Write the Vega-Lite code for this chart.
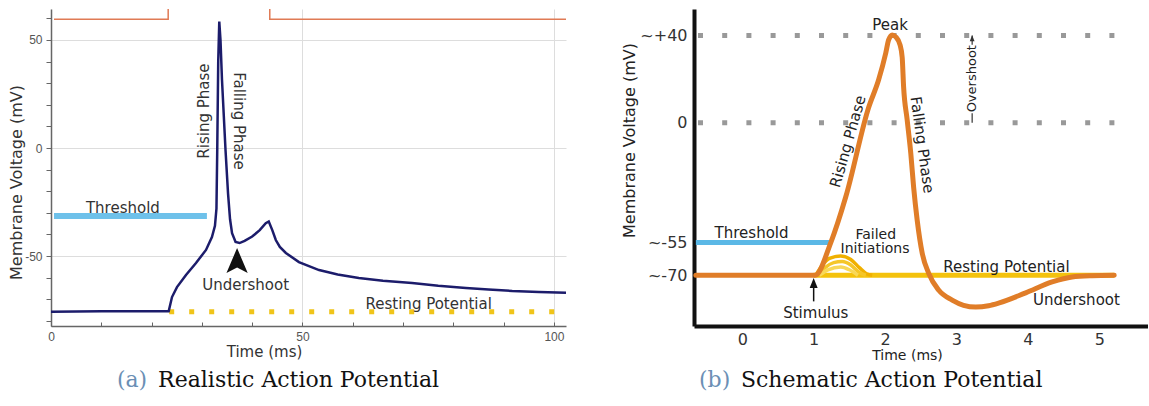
{
  "$schema": "https://vega.github.io/schema/vega-lite/v6.json",
  "background": "white",
  "padding": {"left": 8, "top": 9, "right": 0, "bottom": 0},
  "bounds": "flush",
  "spacing": 128,
  "config": {"view": {"stroke": null}, "font": "DejaVu Sans", "axis": {"titleFontWeight": "normal"}},
  "resolve": {"scale": {"x": "independent", "y": "independent", "color": "independent"}},
  "datasets": {
    "stimA": [{"t": 0.6, "v": 59.6}, {"t": 23.3, "v": 59.6}, {"t": 23.3, "v": 75}, {"t": 43.5, "v": 75}, {"t": 43.5, "v": 59.6}, {"t": 102.4, "v": 59.6}],
    "threshA": [{"t": 0.6, "t2": 31, "v": -31.5}],
    "restA": [{"t": 23.5, "t2": 100.5, "v": -75.8}],
    "traceA": [
      {"t": 0, "v": -75.8}, {"t": 10, "v": -75.6}, {"t": 23.4, "v": -75.6}, {"t": 24.06, "v": -69}, {"t": 25.05, "v": -64.4},
      {"t": 26.84, "v": -58.8}, {"t": 28.83, "v": -53.2}, {"t": 30.82, "v": -47.2}, {"t": 32.0, "v": -41.2}, {"t": 32.6, "v": -36},
      {"t": 32.9, "v": -28}, {"t": 33.06, "v": 0}, {"t": 33.25, "v": 40}, {"t": 33.46, "v": 58.5}, {"t": 33.7, "v": 50},
      {"t": 34.0, "v": 31.5}, {"t": 34.7, "v": -0.9}, {"t": 35.2, "v": -21}, {"t": 35.6, "v": -33}, {"t": 36.0, "v": -39.4},
      {"t": 36.7, "v": -43.5}, {"t": 37.5, "v": -44}, {"t": 38.5, "v": -43}, {"t": 40.0, "v": -41}, {"t": 41.5, "v": -38},
      {"t": 42.7, "v": -34.8}, {"t": 43.3, "v": -34.0}, {"t": 44.0, "v": -38}, {"t": 44.7, "v": -42.6}, {"t": 45.5, "v": -45.8},
      {"t": 46.7, "v": -48.6}, {"t": 49.3, "v": -52.8}, {"t": 53.3, "v": -56.5}, {"t": 57, "v": -58.6}, {"t": 61.2, "v": -60.2},
      {"t": 66, "v": -61.5}, {"t": 71.8, "v": -62.5}, {"t": 77, "v": -63.8}, {"t": 82.5, "v": -64.8}, {"t": 87, "v": -65.5},
      {"t": 91.7, "v": -66.2}, {"t": 97, "v": -66.7}, {"t": 102.4, "v": -67}
    ],
    "arrowA": [{"t": 37.0, "v": -52.1}],
    "textAh": [{"t": 14.3, "v": -30.1, "label": "Threshold"}, {"t": 38.7, "v": -65.7, "label": "Undershoot"}, {"t": 75.1, "v": -74.5, "label": "Resting Potential"}],
    "textAup": [{"t": 30.4, "v": 17.1, "label": "Rising Phase"}],
    "textAdown": [{"t": 37.4, "v": 12.5, "label": "Falling Phase"}],
    "capAl": [{"t": 13.1, "v": -110.6, "label": "(a)"}],
    "capAr": [{"t": 21.3, "v": -110.6, "label": "Realistic Action Potential"}],
    "gridB": [{"t": -0.62, "t2": 5.22, "v": 40}, {"t": -0.62, "t2": 5.22, "v": 0}],
    "threshB": [{"t": -0.65, "t2": 1.24, "v": -55}],
    "restB": [{"t": 1.0, "t2": 5.21, "v": -70}],
    "humpsB": [
      {"s": "h1", "t": 1.03, "v": -70}, {"s": "h1", "t": 1.12, "v": -65.5}, {"s": "h1", "t": 1.22, "v": -62.3}, {"s": "h1", "t": 1.38, "v": -61.2}, {"s": "h1", "t": 1.52, "v": -62.8}, {"s": "h1", "t": 1.64, "v": -66.5}, {"s": "h1", "t": 1.74, "v": -69.3}, {"s": "h1", "t": 1.82, "v": -70},
      {"s": "h2", "t": 1.06, "v": -70}, {"s": "h2", "t": 1.16, "v": -66.5}, {"s": "h2", "t": 1.28, "v": -64.2}, {"s": "h2", "t": 1.40, "v": -63.7}, {"s": "h2", "t": 1.52, "v": -65.3}, {"s": "h2", "t": 1.63, "v": -68.5}, {"s": "h2", "t": 1.73, "v": -70},
      {"s": "h3", "t": 1.08, "v": -70}, {"s": "h3", "t": 1.2, "v": -67.5}, {"s": "h3", "t": 1.38, "v": -66.2}, {"s": "h3", "t": 1.5, "v": -67.5}, {"s": "h3", "t": 1.62, "v": -70}
    ],
    "curveB": [
      {"t": -0.65, "v": -70}, {"t": 1.02, "v": -70}, {"t": 1.24, "v": -55}, {"t": 1.45, "v": -34}, {"t": 1.77, "v": 7},
      {"t": 1.91, "v": 19.7}, {"t": 2.01, "v": 32}, {"t": 2.05, "v": 38}, {"t": 2.10, "v": 40.3}, {"t": 2.15, "v": 39.4},
      {"t": 2.21, "v": 35.7}, {"t": 2.24, "v": 30}, {"t": 2.26, "v": 16.4}, {"t": 2.31, "v": 1.25}, {"t": 2.36, "v": -13.9},
      {"t": 2.40, "v": -29.5}, {"t": 2.45, "v": -44.7}, {"t": 2.52, "v": -59.8}, {"t": 2.61, "v": -69}, {"t": 2.75, "v": -76.8},
      {"t": 2.94, "v": -81.4}, {"t": 3.1, "v": -83.8}, {"t": 3.27, "v": -84.6}, {"t": 3.45, "v": -84}, {"t": 3.60, "v": -82.7},
      {"t": 3.97, "v": -78.1}, {"t": 4.34, "v": -73.1}, {"t": 4.62, "v": -70.8}, {"t": 4.90, "v": -70.2}, {"t": 5.21, "v": -70}
    ],
    "arrowBhead": [{"t": 1.0, "v": -73.6}],
    "arrowBshaft": [{"t": 1.0, "v": -75, "v2": -82}],
    "overBars": [{"t": 3.22, "v": 0, "v2": 4.3}, {"t": 3.22, "v": 35.8, "v2": 40}],
    "overHead": [{"t": 3.22, "v": 38.8}],
    "textBh": [
      {"t": 2.07, "v": 42.6, "label": "Peak"}, {"t": 0.13, "v": -52.8, "label": "Threshold"},
      {"t": 3.70, "v": -68.4, "label": "Resting Potential"},
      {"t": 4.68, "v": -83.7, "label": "Undershoot"}, {"t": 1.03, "v": -89.8, "label": "Stimulus"}
    ],
    "textBsmall": [{"t": 1.87, "v": -53.4, "label": "Failed"}, {"t": 1.86, "v": -59.9, "label": "Initiations"}],
    "textBrise": [{"t": 1.48, "v": -8.6, "label": "Rising Phase"}],
    "textBfall": [{"t": 2.52, "v": -10.2, "label": "Falling Phase"}],
    "textBover": [{"t": 3.22, "v": 20.2, "label": "Overshoot"}],
    "capBl": [{"t": -0.606, "v": -121.3, "label": "(b)"}],
    "capBr": [{"t": -0.018, "v": -121.3, "label": "Schematic Action Potential"}]
  },
  "hconcat": [
    {
      "width": 515,
      "height": 317,
      "encoding": {
        "x": {
          "field": "t", "type": "quantitative",
          "scale": {"domain": [0, 102.4], "nice": false, "zero": false},
          "axis": {
            "title": "Time (ms)", "titleX": 213, "titleFontSize": 15, "titleColor": "#333", "titlePadding": 2,
            "values": [0, 10, 20, 30, 40, 50, 60, 70, 80, 90, 100],
            "labelExpr": "datum.value % 50 === 0 ? datum.label : ''",
            "labelFlush": false, "labelFont": "Liberation Sans", "labelFontSize": 12, "labelColor": "#555", "labelPadding": 9,
            "tickSize": -4, "tickColor": "#666", "domainColor": "#666", "domainWidth": 1.5,
            "grid": true, "gridColor": "#ddd",
            "gridOpacity": {"condition": {"test": "datum.value % 50 === 0", "value": 1}, "value": 0}
          }
        },
        "y": {
          "field": "v", "type": "quantitative",
          "scale": {"domain": [-82.4, 64.35], "nice": false, "zero": false},
          "axis": {
            "title": "Membrane Voltage (mV)", "titleY": 173, "titleFontSize": 16, "titleColor": "#333", "titlePadding": 0,
            "values": [-80, -70, -60, -50, -40, -30, -20, -10, 0, 10, 20, 30, 40, 50, 60],
            "labelExpr": "datum.value === 50 ? '50' : datum.value === 0 ? '0' : datum.value === -50 ? '-50' : ''",
            "labelFont": "Liberation Sans", "labelFontSize": 12, "labelColor": "#555", "labelPadding": 4,
            "tickSize": 5, "tickColor": "#666", "domainColor": "#666", "domainWidth": 1.5,
            "grid": true, "gridColor": "#ddd",
            "gridOpacity": {"condition": {"test": "datum.value % 50 === 0", "value": 1}, "value": 0}
          }
        }
      },
      "layer": [
        {"data": {"name": "stimA"}, "mark": {"type": "line", "color": "#e07a55", "strokeWidth": 1.5, "clip": true}},
        {"data": {"name": "threshA"}, "mark": {"type": "rule", "color": "#6ec1ea", "strokeWidth": 6}, "encoding": {"x2": {"field": "t2"}}},
        {"data": {"name": "restA"}, "mark": {"type": "rule", "color": "#f0c419", "strokeWidth": 5, "strokeDash": [5, 15], "strokeCap": "butt"}, "encoding": {"x2": {"field": "t2"}}},
        {"data": {"name": "traceA"}, "mark": {"type": "line", "color": "#1c1c6b", "strokeWidth": 2.5}},
        {"data": {"name": "arrowA"}, "mark": {"type": "point", "shape": "M0,-1L0.85,1L0,0.55L-0.85,1Z", "size": 625, "filled": true, "color": "#111", "opacity": 1}},
        {"data": {"name": "textAh"}, "mark": {"type": "text", "align": "center", "baseline": "alphabetic", "fontSize": 15, "color": "#333"}, "encoding": {"text": {"field": "label"}}},
        {"data": {"name": "textAup"}, "mark": {"type": "text", "angle": 270, "align": "center", "baseline": "middle", "fontSize": 15, "color": "#333"}, "encoding": {"text": {"field": "label"}}},
        {"data": {"name": "textAdown"}, "mark": {"type": "text", "angle": 90, "align": "center", "baseline": "middle", "fontSize": 15, "color": "#333"}, "encoding": {"text": {"field": "label"}}},
        {"data": {"name": "capAl"}, "mark": {"type": "text", "align": "left", "baseline": "alphabetic", "font": "DejaVu Serif", "fontSize": 22, "color": "#6b8fb5"}, "encoding": {"text": {"field": "label"}}},
        {"data": {"name": "capAr"}, "mark": {"type": "text", "align": "left", "baseline": "alphabetic", "font": "DejaVu Serif", "fontSize": 22, "color": "#111"}, "encoding": {"text": {"field": "label"}}}
      ]
    },
    {
      "width": 454,
      "height": 317,
      "encoding": {
        "x": {
          "field": "t", "type": "quantitative",
          "scale": {"domain": [-0.676, 5.683], "nice": false, "zero": false},
          "axis": {
            "title": "Time (ms)", "titleX": 213, "titleFontSize": 14, "titleColor": "#222", "titlePadding": 1,
            "values": [0, 1, 2, 3, 4, 5], "labelFlush": false, "labelFontSize": 16, "labelColor": "#333", "labelPadding": 5,
            "ticks": false, "domainColor": "#111", "domainWidth": 4, "grid": false
          }
        },
        "y": {
          "field": "v", "type": "quantitative",
          "scale": {"domain": [-93.3, 52.2], "nice": false, "zero": false},
          "axis": {
            "title": "Membrane Voltage (mV)", "titleY": 131, "titleFontSize": 16, "titleColor": "#222", "titlePadding": 2,
            "values": [-70, -55, 0, 40],
            "labelExpr": "datum.value === 40 ? '~+40' : datum.value === 0 ? '0' : datum.value === -55 ? '~-55' : '~-70'",
            "labelFontSize": 16, "labelColor": "#333", "labelPadding": 7,
            "ticks": false, "domainColor": "#111", "domainWidth": 4, "grid": false
          }
        }
      },
      "layer": [
        {"data": {"name": "gridB"}, "mark": {"type": "rule", "color": "#999", "strokeWidth": 5, "strokeDash": [5, 19.2], "strokeCap": "butt"}, "encoding": {"x2": {"field": "t2"}}},
        {"data": {"name": "threshB"}, "mark": {"type": "rule", "color": "#5bb8e6", "strokeWidth": 5}, "encoding": {"x2": {"field": "t2"}}},
        {"data": {"name": "restB"}, "mark": {"type": "rule", "color": "#f4c20d", "strokeWidth": 5}, "encoding": {"x2": {"field": "t2"}}},
        {"data": {"name": "humpsB"}, "mark": {"type": "line", "strokeWidth": 3.5, "interpolate": "monotone"}, "encoding": {"color": {"field": "s", "type": "nominal", "scale": {"domain": ["h1", "h2", "h3"], "range": ["#f0b000", "#f5c628", "#f8d858"]}, "legend": null}}},
        {"data": {"name": "curveB"}, "mark": {"type": "line", "color": "#e07d28", "strokeWidth": 5, "interpolate": "monotone", "strokeCap": "round"}},
        {"data": {"name": "arrowBshaft"}, "mark": {"type": "rule", "color": "#111", "strokeWidth": 1.5}, "encoding": {"y2": {"field": "v2"}}},
        {"data": {"name": "arrowBhead"}, "mark": {"type": "point", "shape": "M0,-1L0.8,1L-0.8,1Z", "size": 100, "filled": true, "color": "#111", "opacity": 1}},
        {"data": {"name": "overBars"}, "mark": {"type": "rule", "color": "#333", "strokeWidth": 1.2}, "encoding": {"y2": {"field": "v2"}}},
        {"data": {"name": "overHead"}, "mark": {"type": "point", "shape": "M0,-1L0.8,1L-0.8,1Z", "size": 36, "filled": true, "color": "#333", "opacity": 1}},
        {"data": {"name": "textBh"}, "mark": {"type": "text", "align": "center", "baseline": "alphabetic", "fontSize": 15, "color": "#222"}, "encoding": {"text": {"field": "label"}}},
        {"data": {"name": "textBsmall"}, "mark": {"type": "text", "align": "center", "baseline": "alphabetic", "fontSize": 14, "color": "#222"}, "encoding": {"text": {"field": "label"}}},
        {"data": {"name": "textBrise"}, "mark": {"type": "text", "angle": 286, "align": "center", "baseline": "middle", "fontSize": 15, "color": "#222"}, "encoding": {"text": {"field": "label"}}},
        {"data": {"name": "textBfall"}, "mark": {"type": "text", "angle": 82, "align": "center", "baseline": "middle", "fontSize": 15, "color": "#222"}, "encoding": {"text": {"field": "label"}}},
        {"data": {"name": "textBover"}, "mark": {"type": "text", "angle": 270, "align": "center", "baseline": "middle", "fontSize": 13, "color": "#222"}, "encoding": {"text": {"field": "label"}}},
        {"data": {"name": "capBl"}, "mark": {"type": "text", "align": "left", "baseline": "alphabetic", "font": "DejaVu Serif", "fontSize": 22, "color": "#6b8fb5"}, "encoding": {"text": {"field": "label"}}},
        {"data": {"name": "capBr"}, "mark": {"type": "text", "align": "left", "baseline": "alphabetic", "font": "DejaVu Serif", "fontSize": 22, "color": "#111"}, "encoding": {"text": {"field": "label"}}}
      ]
    }
  ]
}
